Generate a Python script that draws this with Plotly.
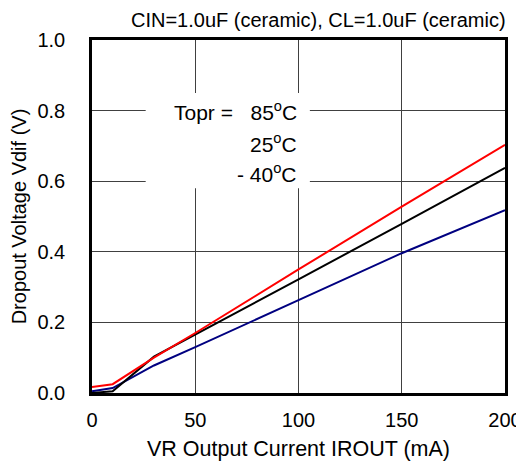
import plotly.graph_objects as go

current_ma = [0, 10, 30, 50, 100, 150, 200]
vdif_85c = [0.017, 0.025, 0.100, 0.170, 0.350, 0.528, 0.703]
vdif_25c = [0.000, 0.005, 0.103, 0.165, 0.322, 0.479, 0.638]
vdif_m40c = [0.005, 0.014, 0.078, 0.130, 0.263, 0.396, 0.518]

x_ticks = [0, 50, 100, 150, 200]
y_ticks = [0.0, 0.2, 0.4, 0.6, 0.8, 1.0]

fig = go.Figure(
    data=[
        go.Scatter(x=current_ma, y=vdif_m40c, mode='lines',
                   line=dict(color='#000080', width=2), showlegend=False),
        go.Scatter(x=current_ma, y=vdif_25c, mode='lines',
                   line=dict(color='black', width=2), showlegend=False),
        go.Scatter(x=current_ma, y=vdif_85c, mode='lines',
                   line=dict(color='#ff0000', width=2), showlegend=False),
    ],
    layout=go.Layout(
        # page body has an 8px margin, so the figure is a bit smaller than the window
        width=516, height=466,
        margin=dict(l=84, r=19, t=32, b=81),
        plot_bgcolor='white',
        paper_bgcolor='white',
        font=dict(family="Liberation Sans, Arial", size=20, color='black'),
        xaxis=dict(
            range=[0, 200], tickvals=x_ticks, showgrid=True, gridcolor='#404040', gridwidth=1,
            zeroline=False, showline=True, linecolor='black', linewidth=2.5, mirror=True,
            ticks='', ticklabelstandoff=7, automargin=False,
            title=dict(text='VR Output Current IROUT (mA)', font=dict(size=21.5), standoff=12),
        ),
        yaxis=dict(
            range=[0, 1.0], tickvals=y_ticks, tickformat='.1f', showgrid=True,
            gridcolor='#404040', gridwidth=1,
            zeroline=False, showline=True, linecolor='black', linewidth=2.5, mirror=True,
            ticks='', ticklabelstandoff=20, automargin=False,
            title=dict(text='Dropout Voltage Vdif (V)', font=dict(size=20), standoff=10),
        ),
    )
)

# white box that interrupts the grid behind the temperature labels
fig.add_shape(type='rect', xref='x', yref='y', x0=26, x1=105.5, y0=0.58, y1=0.85,
              fillcolor='white', line=dict(width=0), layer='between')

fig.add_annotation(x=100, y=0.80, xref='x', yref='y', xanchor='right', showarrow=False,
                   text='Topr =   85<sup>o</sup>C', font=dict(size=21))
fig.add_annotation(x=100, y=0.707, xref='x', yref='y', xanchor='right', showarrow=False,
                   text='25<sup>o</sup>C', font=dict(size=21))
fig.add_annotation(x=100, y=0.622, xref='x', yref='y', xanchor='right', showarrow=False,
                   text='- 40<sup>o</sup>C', font=dict(size=21))

fig.add_annotation(x=0.548, y=1.0, xref='x domain', yref='y domain', yanchor='bottom', yshift=7,
                   showarrow=False, text='CIN=1.0uF (ceramic), CL=1.0uF (ceramic)',
                   font=dict(size=20))

fig.write_html("out.html")
